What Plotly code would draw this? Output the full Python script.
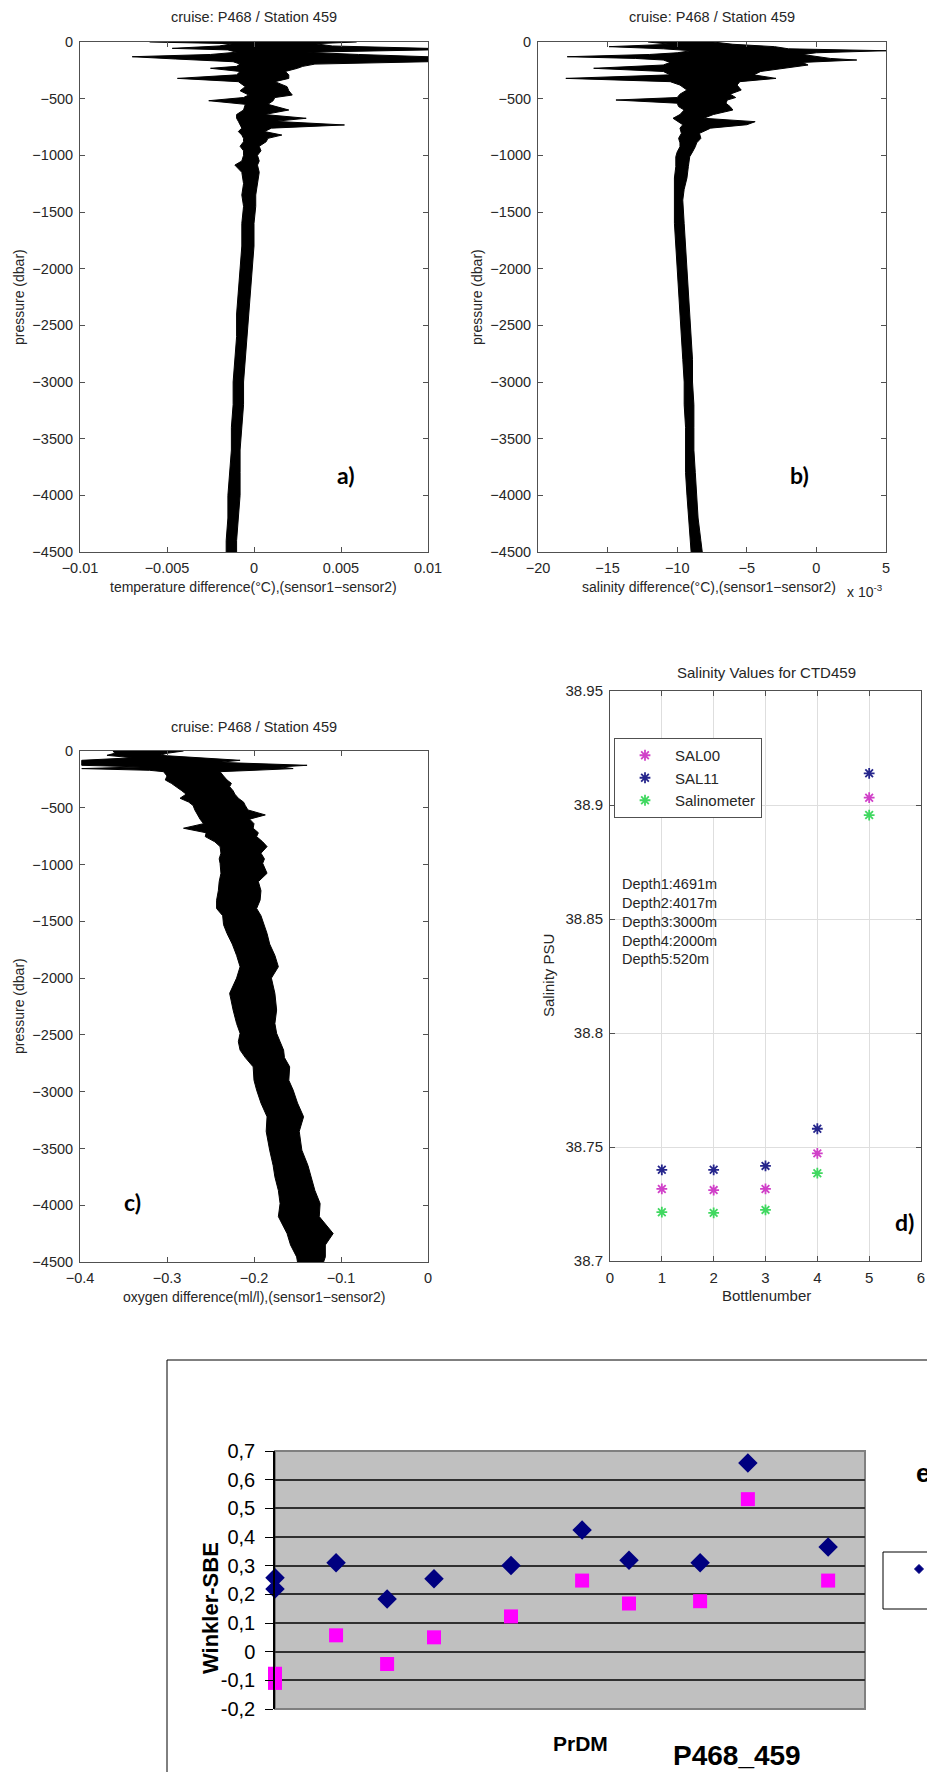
import plotly.graph_objects as go

W, H = 927, 1772
FONT = "Liberation Sans, Arial, sans-serif"
TXT = "#262626"
AX = "#505050"

# ---------------- data ----------------
# a) temperature difference (sensor1-sensor2), envelope of the profile
pres_a = [0, -15, -35, -56, -70, -90, -110, -130, -150, -174,
          -195, -215, -232, -260, -290, -321, -350, -394, -430, -468,
          -490, -518, -550, -600, -640, -673, -700, -732, -760, -790,
          -821, -850, -880, -920, -960, -1000, -1050, -1086, -1150, -1250,
          -1350, -1450, -1600, -1800, -2000, -2200, -2400, -2600, -2800, -3000,
          -3200, -3400, -3600, -3800, -4000, -4200, -4400, -4500]
tdiff_min = [-0.0060, -0.0012, -0.0020, -0.0047, -0.0015, -0.0010, -0.0025, -0.0070, -0.0045, -0.0012,
             -0.0008, -0.0010, -0.0025, -0.0008, -0.0010, -0.0044, -0.0009, -0.0005, -0.0008, -0.0003,
             -0.0006, -0.0026, -0.0005, -0.0006, -0.0010, -0.0010, -0.0009, -0.0008, -0.0007, -0.0009,
             -0.0007, -0.0006, -0.0006, -0.0008, -0.0006, -0.0006, -0.0007, -0.0011, -0.0007, -0.0006,
             -0.0007, -0.0006, -0.0007, -0.0007, -0.0008, -0.0009, -0.0010, -0.0010, -0.0011, -0.0012,
             -0.0012, -0.0013, -0.0013, -0.0014, -0.0015, -0.0015, -0.0016, -0.0016]
tdiff_max = [0.0059, 0.0035, 0.0045, 0.0100, 0.0100, 0.0030, 0.0060, 0.0100, 0.0100, 0.0100,
             0.0035, 0.0028, 0.0025, 0.0018, 0.0020, 0.0020, 0.0012, 0.0019, 0.0020, 0.0022,
             0.0012, 0.0011, 0.0008, 0.0020, 0.0006, 0.0030, 0.0012, 0.0052, 0.0010, 0.0006,
             0.0016, 0.0008, 0.0007, 0.0003, 0.0004, 0.0002, 0.0003, 0.0002, 0.0003, 0.0002,
             0.0001, 0.0001, 0.0000, 0.0000, -0.0001, -0.0002, -0.0003, -0.0004, -0.0005, -0.0006,
             -0.0006, -0.0007, -0.0008, -0.0008, -0.0008, -0.0009, -0.0010, -0.0010]

# b) salinity difference (x 10^-3)
pres_b = [0, -20, -41, -60, -77, -95, -110, -130, -145, -159,
          -180, -203, -232, -260, -290, -321, -350, -380, -424, -460,
          -490, -512, -540, -570, -600, -640, -673, -703, -730, -760,
          -806, -850, -890, -924, -970, -1012, -1100, -1200, -1300, -1395,
          -1600, -1800, -1983, -2217, -2400, -2600, -2800, -3000, -3200, -3400,
          -3601, -3800, -3998, -4200, -4400, -4500]
sdiff_min = [-12.1, -10.5, -14.9, -11.0, -9.0, -10.0, -12.0, -17.9, -13.0, -11.0,
             -10.5, -11.0, -16.0, -11.0, -10.5, -18.0, -10.5, -9.8, -9.3, -9.8,
             -10.0, -14.4, -10.0, -9.9, -9.5, -9.8, -10.3, -9.9, -9.6, -9.8,
             -9.7, -9.9, -9.8, -9.8, -10.0, -10.1, -10.1, -10.2, -10.2, -10.2,
             -10.2, -10.1, -10.0, -9.9, -9.8, -9.7, -9.6, -9.5, -9.5, -9.4,
             -9.4, -9.4, -9.3, -9.2, -9.1, -9.0]
sdiff_max = [-7.4, -6.0, -3.0, -2.0, 5.0, 0.0, -1.0, 0.1, 1.0, 2.9,
             -1.0, -0.6, -2.3, -4.0, -4.5, -2.9, -5.5, -5.7, -5.4, -6.2,
             -5.8, -6.4, -6.5, -6.2, -6.0, -7.4, -8.1, -4.4, -5.0, -7.6,
             -8.4, -8.3, -8.6, -8.7, -8.9, -9.1, -9.2, -9.3, -9.5, -9.6,
             -9.5, -9.4, -9.3, -9.2, -9.1, -9.0, -8.9, -8.9, -8.8, -8.8,
             -8.8, -8.7, -8.6, -8.5, -8.3, -8.2]

# c) oxygen difference (ml/l)
pres_c = [0, -20, -38, -60, -82, -100, -126, -140, -155, -170,
          -182, -220, -255, -285, -314, -350, -380, -416, -450, -480,
          -519, -563, -600, -640, -680, -720, -754, -800, -842, -900,
          -950, -989, -1077, -1150, -1230, -1314, -1387, -1450, -1530, -1607,
          -1700, -1800, -1900, -2000, -2134, -2281, -2400, -2486, -2560, -2634,
          -2700, -2781, -2900, -2986, -3100, -3221, -3350, -3515, -3650, -3750,
          -3870, -3985, -4100, -4249, -4350, -4455, -4500]
odiff_min = [-0.362, -0.360, -0.369, -0.340, -0.398, -0.398, -0.398, -0.330, -0.398, -0.320,
             -0.304, -0.300, -0.302, -0.295, -0.289, -0.283, -0.278, -0.285, -0.275, -0.270,
             -0.268, -0.265, -0.262, -0.258, -0.281, -0.255, -0.256, -0.245, -0.239, -0.238,
             -0.240, -0.239, -0.238, -0.240, -0.241, -0.243, -0.243, -0.236, -0.235, -0.231,
             -0.225, -0.220, -0.216, -0.220, -0.228, -0.224, -0.220, -0.216, -0.218, -0.216,
             -0.210, -0.201, -0.200, -0.197, -0.192, -0.185, -0.186, -0.182, -0.178, -0.176,
             -0.172, -0.170, -0.172, -0.162, -0.158, -0.151, -0.150]
odiff_max = [-0.281, -0.300, -0.308, -0.260, -0.216, -0.240, -0.139, -0.170, -0.155, -0.200,
             -0.239, -0.235, -0.231, -0.226, -0.228, -0.224, -0.222, -0.218, -0.212, -0.210,
             -0.207, -0.187, -0.205, -0.200, -0.201, -0.195, -0.197, -0.190, -0.185, -0.192,
             -0.188, -0.190, -0.185, -0.195, -0.192, -0.193, -0.197, -0.192, -0.188, -0.185,
             -0.182, -0.176, -0.172, -0.180, -0.176, -0.174, -0.176, -0.174, -0.170, -0.166,
             -0.165, -0.159, -0.160, -0.155, -0.150, -0.143, -0.148, -0.145, -0.138, -0.134,
             -0.130, -0.124, -0.125, -0.109, -0.118, -0.118, -0.120]

# d) salinity values for CTD459
bottles = [1, 2, 3, 4, 5]
sal00 = [38.7316, 38.7311, 38.7316, 38.7472, 38.9032]
sal11 = [38.7400, 38.7400, 38.7417, 38.7580, 38.9139]
salinometer = [38.7214, 38.7211, 38.7224, 38.7385, 38.8956]
depth_labels = ["Depth1:4691m", "Depth2:4017m", "Depth3:3000m", "Depth4:2000m", "Depth5:520m"]

# e) Winkler - SBE oxygen
e_pos = [0, 0, 2.07, 3.80, 5.39, 8.0, 10.41, 12.0, 14.41, 16.03, 18.75]
e_diamond = [0.258, 0.219, 0.310, 0.184, 0.254, 0.301, 0.424, 0.319, 0.310, 0.658, 0.365]
e_square = [-0.077, -0.109, 0.057, -0.043, 0.050, 0.123, 0.248, 0.168, 0.176, 0.532, 0.248]
e_ticks = [-0.2, -0.1, 0, 0.1, 0.2, 0.3, 0.4, 0.5, 0.6, 0.7]
e_ticktext = ["-0,2", "-0,1", "0", "0,1", "0,2", "0,3", "0,4", "0,5", "0,6", "0,7"]


# ---------------- helpers ----------------
def fx(p):
    return p / W


def fy(p):
    return 1 - p / H


fig = go.Figure()


def profile(pres, lo, hi, ax):
    fig.add_trace(go.Scatter(x=lo, y=pres, mode="lines", line=dict(color="black", width=1),
                             xaxis="x" + ax, yaxis="y" + ax, showlegend=False, hoverinfo="skip"))
    fig.add_trace(go.Scatter(x=hi, y=pres, mode="lines", line=dict(color="black", width=1),
                             fill="tonextx", fillcolor="black",
                             xaxis="x" + ax, yaxis="y" + ax, showlegend=False, hoverinfo="skip"))


profile(pres_a, tdiff_min, tdiff_max, "")
profile(pres_b, sdiff_min, sdiff_max, "2")
profile(pres_c, odiff_min, odiff_max, "3")

for name, vals, col in [("SAL00", sal00, "#d040c8"), ("SAL11", sal11, "#26268c"),
                        ("Salinometer", salinometer, "#40d860")]:
    fig.add_trace(go.Scatter(x=bottles, y=vals, mode="markers", name=name,
                             marker=dict(symbol="asterisk-open", size=9, color=col,
                                         line=dict(width=1.8, color=col)),
                             xaxis="x4", yaxis="y4"))

fig.add_trace(go.Scatter(x=e_pos, y=e_diamond, mode="markers", showlegend=False,
                         marker=dict(symbol="diamond", size=15, color="#000080"),
                         cliponaxis=False, xaxis="x5", yaxis="y5"))
fig.add_trace(go.Scatter(x=e_pos, y=e_square, mode="markers", showlegend=False,
                         marker=dict(symbol="square", size=14, color="#ff00ff"),
                         cliponaxis=False, xaxis="x5", yaxis="y5"))


def mat_axis(dom, rng, tickvals, anchor, ticktext=None, size=14.5, grid=False):
    d = dict(domain=dom, range=rng, tickvals=tickvals, anchor=anchor, showline=True,
             mirror="ticks", linecolor=AX, linewidth=1, ticks="inside", ticklen=5,
             tickcolor=AX, zeroline=False, showgrid=grid, gridcolor="#dedede", gridwidth=1,
             tickfont=dict(size=size, color=TXT, family=FONT), ticklabelstandoff=3)
    if ticktext is not None:
        d["ticktext"] = ticktext
    return d


pres_ticks = [0, -500, -1000, -1500, -2000, -2500, -3000, -3500, -4000, -4500]
top_dom = [fy(552), fy(42)]
mid_dom_c = [fy(1262), fy(751)]

layout = dict(
    width=W, height=H, margin=dict(l=0, r=0, t=0, b=0, autoexpand=False),
    paper_bgcolor="white", plot_bgcolor="white",
    font=dict(family=FONT, color=TXT),
    xaxis=mat_axis([fx(80), fx(428)], [-0.01, 0.01], [-0.01, -0.005, 0, 0.005, 0.01], "y"),
    yaxis=mat_axis(top_dom, [-4500, 0], pres_ticks, "x"),
    xaxis2=mat_axis([fx(538), fx(886)], [-20, 5], [-20, -15, -10, -5, 0, 5], "y2"),
    yaxis2=mat_axis(top_dom, [-4500, 0], pres_ticks, "x2"),
    xaxis3=mat_axis([fx(80), fx(428)], [-0.4, 0], [-0.4, -0.3, -0.2, -0.1, 0], "y3"),
    yaxis3=mat_axis(mid_dom_c, [-4500, 0], pres_ticks, "x3"),
    xaxis4=mat_axis([fx(610), fx(921)], [0, 6], [0, 1, 2, 3, 4, 5, 6], "y4", size=15, grid=True),
    yaxis4=mat_axis([fy(1261), fy(691)], [38.7, 38.95],
                    [38.7, 38.75, 38.8, 38.85, 38.9, 38.95], "x4",
                    ["38.7", "38.75", "38.8", "38.85", "38.9", "38.95"], size=15, grid=True),
    xaxis5=dict(domain=[fx(275), fx(865)], range=[0, 20], anchor="y5", showticklabels=False,
                ticks="", showline=False, showgrid=False, zeroline=False),
    yaxis5=dict(domain=[fy(1709), fy(1451)], range=[-0.2, 0.7], anchor="x5", tickvals=e_ticks,
                ticktext=e_ticktext, showgrid=True, gridcolor="#303030", gridwidth=1.5,
                showline=True, linecolor="black", linewidth=1.5, ticks="outside", ticklen=8,
                tickcolor="black", zeroline=False, ticklabelstandoff=6,
                tickfont=dict(size=20, color="black", family=FONT)),
    legend=dict(x=fx(614), y=fy(738), xanchor="left", yanchor="top", bgcolor="white",
                bordercolor=AX, borderwidth=1, font=dict(size=15, color=TXT, family=FONT),
                itemwidth=50, tracegroupgap=0, traceorder="normal"),
    showlegend=True,
)
fig.update_layout(**layout)

# legend key of e): small navy diamond
kx, ky, kr = 919, 1569, 4.5
key_path = "M {:.5f},{:.5f} L {:.5f},{:.5f} L {:.5f},{:.5f} L {:.5f},{:.5f} Z".format(
    fx(kx), fy(ky - kr), fx(kx + kr), fy(ky), fx(kx), fy(ky + kr), fx(kx - kr), fy(ky))

shapes = [
    # grey plot background of e)
    dict(type="rect", xref="x5 domain", yref="y5 domain", x0=0, x1=1, y0=0, y1=1,
         fillcolor="#c0c0c0", line=dict(color="#808080", width=2), layer="below"),
    # outer chart frame of e)
    dict(type="rect", xref="paper", yref="paper", x0=fx(167), x1=fx(945), y0=fy(1795), y1=fy(1360),
         line=dict(color="black", width=1), fillcolor="rgba(0,0,0,0)", layer="below"),
    # legend frame of e)
    dict(type="rect", xref="paper", yref="paper", x0=fx(883), x1=fx(945), y0=fy(1609), y1=fy(1552),
         line=dict(color="black", width=1), fillcolor="rgba(0,0,0,0)", layer="below"),
    dict(type="path", xref="paper", yref="paper", path=key_path,
         fillcolor="#000080", line=dict(color="#000080", width=1), layer="above"),
]
fig.update_layout(shapes=shapes)

anns = []


def ann(text, x, y, size, color=TXT, bold=False, angle=0, xanchor="center", yanchor="middle",
        family=FONT, align="center"):
    if bold:
        text = "<b>" + text + "</b>"
    anns.append(dict(text=text, x=fx(x), y=fy(y), xref="paper", yref="paper", showarrow=False,
                     xanchor=xanchor, yanchor=yanchor, textangle=angle, align=align,
                     font=dict(size=size, color=color, family=family)))


title = "cruise: P468 / Station 459"
ann(title, 254, 17, 14.5)
ann(title, 712, 17, 14.5)
ann(title, 254, 727, 14.5)
ann("Salinity Values for CTD459", 766, 673, 15)

ann("temperature difference(°C),(sensor1\u2212sensor2)", 254, 587, 14)
ann("salinity difference(°C),(sensor1\u2212sensor2)", 709, 587, 14)
ann("x 10<sup>-3</sup>", 845, 591, 14, xanchor="left")
ann("oxygen difference(ml/l),(sensor1\u2212sensor2)", 254, 1297, 14)
ann("Bottlenumber", 766, 1295, 15)

ann("pressure (dbar)", 19, 297, 14, angle=-90)
ann("pressure (dbar)", 477, 297, 14, angle=-90)
ann("pressure (dbar)", 19, 1006, 14, angle=-90)
ann("Salinity PSU", 548, 976, 15, angle=-90)

ann("<br>".join(depth_labels), 620, 874, 14.5, xanchor="left", yanchor="top", align="left")

LET = "Lato, Open Sans, sans-serif"
ann("a)", 346, 475, 23, color="black", bold=True, family=LET)
ann("b)", 799, 475, 23, color="black", bold=True, family=LET)
ann("c)", 132, 1202, 23, color="black", bold=True, family=LET)
ann("d)", 904, 1222, 23, color="black", bold=True, family=LET)

ann("Winkler-SBE", 210, 1608, 22, color="black", bold=True, angle=-90)
ann("PrDM", 580, 1743, 21, color="black", bold=True)
ann("P468_459", 737, 1755, 28, color="black", bold=True)
ann("e)", 914, 1473, 26, color="black", bold=True, xanchor="left")

fig.update_layout(annotations=anns)

# page body without margin/scrollbars so the figure sits at the window's top-left corner
fig.write_html("out.html", config={"displayModeBar": False}, post_script=(
    "document.documentElement.style.margin='0';document.documentElement.style.overflow='hidden';"
    "document.body.style.margin='0';document.body.style.overflow='hidden';"))
